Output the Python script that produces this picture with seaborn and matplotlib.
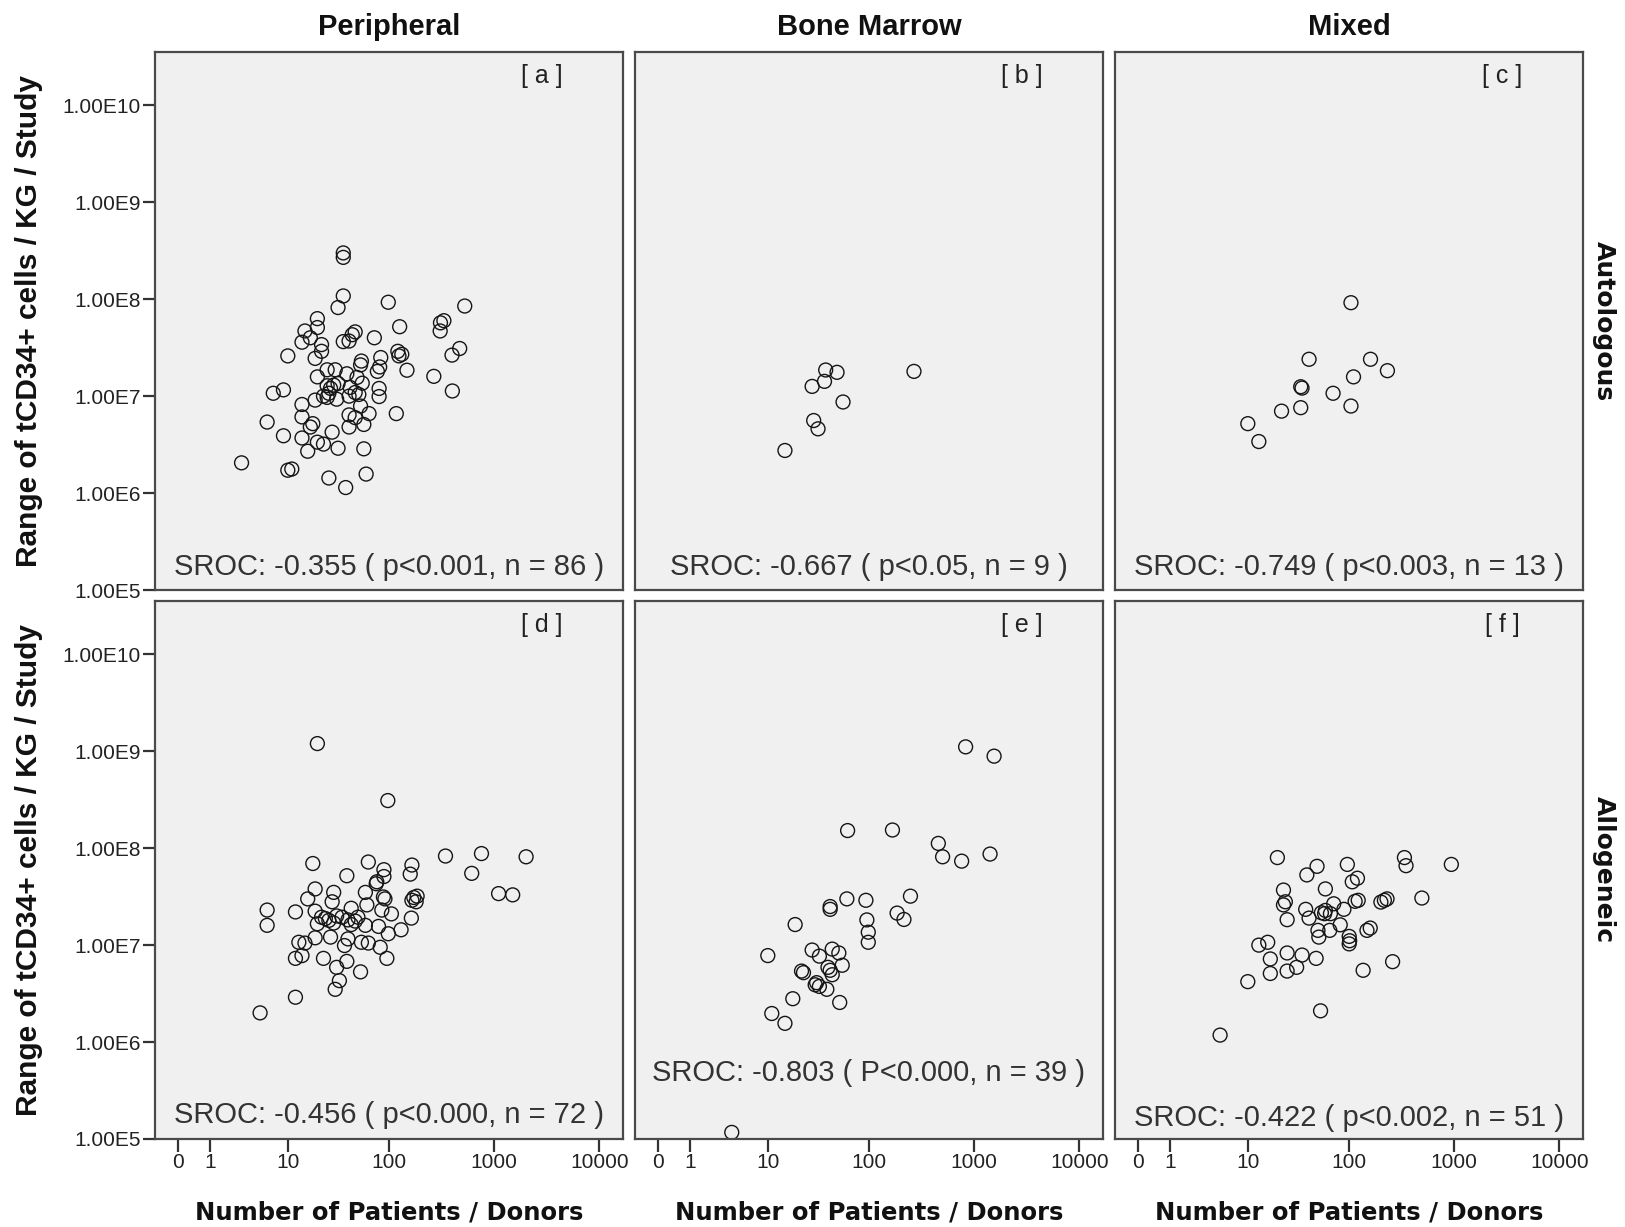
import numpy as np
import pandas as pd
import seaborn as sns
import matplotlib
matplotlib.use("Agg")
import matplotlib.pyplot as plt
from matplotlib.ticker import NullLocator

# number of patients / donors per study, and tCD34+ cells/kg (in millions) per study
per_auto_n = [36, 36, 36, 32, 98, 526, 20, 15, 20, 17, 14, 22, 22, 10, 19, 36, 41, 44, 47, 72,
              126, 309, 333, 307, 471, 398, 121, 132, 124, 83, 54, 53, 81, 77, 148, 267, 401, 25, 30, 39,
              20, 49, 55, 25, 27, 29, 26, 32, 42, 47, 51, 41, 80, 80, 7, 9, 19, 25, 31, 14,
              53, 41, 47, 64, 14, 18, 17, 6, 117, 57, 41, 9, 14, 28, 20, 23, 16, 32, 57, 3,
              10, 11, 26, 38, 60, 23]
per_auto_cd34 = [300, 270, 108, 82, 93, 85, 63, 47, 51, 40, 36, 34, 29, 26, 24.5, 36.5, 37, 43, 46, 40,
                 52, 57, 60, 47, 31, 26.5, 29, 27, 26, 25, 23, 21, 20, 18, 18.5, 16, 11.3, 18.7, 18.7, 17,
                 15.8, 15.6, 13.6, 12.8, 12, 13, 10.7, 13.5, 12.3, 10.9, 10.4, 10, 12, 9.9, 10.7, 11.6, 9.1, 9.7, 9.3, 8.2,
                 7.9, 6.4, 6.0, 6.6, 6.1, 5.2, 4.8, 5.4, 6.6, 5.1, 4.8, 3.9, 3.7, 4.25, 3.35, 3.2, 2.7, 2.9, 2.86, 2.05,
                 1.72, 1.77, 1.43, 1.14, 1.57, 10]

bm_auto_n = [38, 49, 37, 28, 268, 56, 29, 32, 15]
bm_auto_cd34 = [18.6, 17.6, 14.2, 12.6, 18, 8.7, 5.6, 4.6, 2.75]

mix_auto_n = [104, 41, 160, 232, 110, 34, 35, 70, 104, 34, 22, 10, 13]
mix_auto_cd34 = [92, 24, 24, 18.3, 15.8, 12.5, 12.1, 10.7, 7.9, 7.6, 7.0, 5.2, 3.4]

per_allo_n = [20, 97, 345, 759, 2016, 613, 1104, 1503, 18, 63, 89, 89, 165, 159, 39, 75, 19, 29, 59, 88,
              16, 28, 61, 172, 185, 181, 165, 6, 12, 19, 43, 85, 105, 22, 24, 20, 31, 40, 47, 43,
              29, 59, 79, 163, 6, 19, 27, 40, 98, 130, 13, 15, 37, 54, 63, 82, 12, 14, 23, 39,
              95, 31, 53, 33, 30, 12, 5, 76, 35, 50, 26, 91]
per_allo_cd34 = [1200, 310, 83, 88, 81.5, 55, 34, 33, 69.5, 72, 60, 51, 67, 54, 52, 43, 38, 35, 35, 31.4,
                 30, 28, 26, 31, 32, 28, 29, 23, 22, 22.4, 24, 23, 21, 19.4, 18.8, 16.6, 20, 18.2, 17.7, 16.3,
                 16.9, 16, 15.6, 19, 16, 11.9, 12.1, 11.6, 13.1, 14.4, 10.7, 10.5, 9.9, 10.7, 10.5, 9.5, 7.3, 7.8, 7.3, 6.8,
                 7.3, 5.9, 5.3, 4.3, 3.5, 2.9, 2.0, 45, 19.4, 19.4, 18, 30]

bm_allo_n = [831, 1550, 62, 167, 457, 502, 762, 1419, 61, 93, 42, 42, 248, 185, 215, 95, 98, 98, 19, 10,
             28, 44, 33, 51, 55, 22, 23, 40, 42, 44, 31, 33, 39, 30, 18, 52, 11, 15, 4]
bm_allo_cd34 = [1110, 890, 152, 154, 112, 81.5, 73.5, 87, 30, 29, 25, 23.4, 32, 21.4, 18.4, 18.2, 13.6, 10.7, 16.3, 7.8,
                8.9, 9.1, 7.7, 8.3, 6.2, 5.4, 5.2, 5.9, 5.5, 4.95, 4.1, 3.75, 3.5, 3.9, 2.8, 2.56, 1.97, 1.56, 0.117]

mix_allo_n = [20, 49, 39, 96, 337, 349, 942, 107, 120, 59, 23, 23, 24, 38, 41, 25, 71, 54, 58, 59,
              89, 114, 122, 201, 217, 230, 494, 50, 51, 65, 82, 100, 101, 100, 148, 159, 13, 16, 25, 35,
              48, 17, 17, 25, 31, 260, 136, 10, 53, 5, 66]
mix_allo_cd34 = [80, 65, 53, 68, 80, 66, 68, 45, 49, 38, 37, 26, 28, 23.4, 19, 18.3, 26.7, 21.6, 21.1, 22.8,
                 23.4, 28.3, 29, 27.8, 29, 30, 30.6, 14.2, 12.1, 14.2, 16.2, 12.3, 11.1, 10.3, 14.2, 15, 10, 10.7, 8.3, 7.9,
                 7.3, 7.2, 5.1, 5.4, 5.9, 6.75, 5.5, 4.2, 2.1, 1.18, 21.1]

sources = ["Peripheral", "Bone Marrow", "Mixed"]
types = ["Autologous", "Allogeneic"]
panel_tags = ["a", "b", "c", "d", "e", "f"]
sroc_text = ["SROC: -0.355 ( p<0.001, n = 86 )", "SROC: -0.667 ( p<0.05, n = 9 )",
             "SROC: -0.749 ( p<0.003, n = 13 )", "SROC: -0.456 ( p<0.000, n = 72 )",
             "SROC: -0.803 ( P<0.000, n = 39 )", "SROC: -0.422 ( p<0.002, n = 51 )"]
x_ticks = [0, 1, 10, 100, 1000, 10000]
x_ticklabels = ["0", "1", "10", "100", "1000", "10000"]
y_ticks = [1e5, 1e6, 1e7, 1e8, 1e9, 1e10]
y_ticklabels = ["1.00E5", "1.00E6", "1.00E7", "1.00E8", "1.00E9", "1.00E10"]

groups = [
    ("Peripheral", "Autologous", per_auto_n, per_auto_cd34),
    ("Bone Marrow", "Autologous", bm_auto_n, bm_auto_cd34),
    ("Mixed", "Autologous", mix_auto_n, mix_auto_cd34),
    ("Peripheral", "Allogeneic", per_allo_n, per_allo_cd34),
    ("Bone Marrow", "Allogeneic", bm_allo_n, bm_allo_cd34),
    ("Mixed", "Allogeneic", mix_allo_n, mix_allo_cd34),
]
frames = []
for src, typ, n, c in groups:
    frames.append(pd.DataFrame({"source": src, "type": typ,
                                "patients": n, "cells": np.array(c) * 1e6}))
df = pd.concat(frames, ignore_index=True)

sns.set_theme(style="white")
plt.rcParams['font.family'] = ['Liberation Sans', 'DejaVu Sans']


def fwd(x):
    x = np.asarray(x, dtype=float)
    return np.log10(np.clip(x, -0.9999, None) + 1)


def inv(u):
    return 10 ** np.asarray(u, dtype=float) - 1


W, H = 1625, 1227
fig = plt.figure(figsize=(W / 100, H / 100), dpi=100)
fig.patch.set_facecolor("white")

col_left = [155, 635, 1115]
row_top = [52, 601]
pw, ph = 468, 538
text_base = [15, 15, 15, 16, 58, 13]

for i, (src, typ, n, c) in enumerate(groups):
    r, k = divmod(i, 3)
    l, t = col_left[k], row_top[r]
    ax = fig.add_axes([l / W, 1 - (t + ph) / H, pw / W, ph / H])
    ax.set_facecolor("#f0f0f0")
    sub = df[(df.source == src) & (df.type == typ)]
    ax.set_xscale("function", functions=(fwd, inv))
    ax.set_yscale("log")
    sns.scatterplot(data=sub, x="patients", y="cells", ax=ax, s=100,
                    facecolor="none", edgecolor="#151515", linewidth=1.0, legend=False)
    ax.set_xlim(inv(-0.22), inv(4.225))
    ax.set_ylim(1e5, 10 ** 10.55)
    ax.xaxis.set_minor_locator(NullLocator())
    ax.yaxis.set_minor_locator(NullLocator())
    ax.set_xlabel("")
    ax.set_ylabel("")
    if r == 1:
        ax.set_xticks(x_ticks)
        ax.set_xticklabels(x_ticklabels)
    else:
        ax.set_xticks([])
    if k == 0:
        ax.set_yticks(y_ticks)
        ax.set_yticklabels(y_ticklabels)
    else:
        ax.set_yticks([])
    ax.tick_params(bottom=(r == 1), left=(k == 0), top=False, right=False,
                   direction="out", length=9, width=1.6, color="#333333",
                   labelsize=15, labelcolor="#222222", pad=1)
    for s in ax.spines.values():
        s.set_color("#4a4a4a")
        s.set_linewidth(1.6)
    ax.text(0.5, text_base[i] / ph, sroc_text[i], transform=ax.transAxes,
            ha="center", va="baseline", fontsize=21, color="#333333")
    ax.text(1 - 81 / pw, 1 - 24 / ph, "[ " + panel_tags[i] + " ]", transform=ax.transAxes,
            ha="center", va="center", fontsize=18, color="#222222")

for k, src in enumerate(sources):
    cx = (col_left[k] + pw / 2) / W
    fig.text(cx, 1 - 27 / H, src, ha="center", va="center",
             fontsize=21, fontweight="bold", color="#111111")
    fig.text(cx, 1 - 1212 / H, "Number of Patients / Donors", ha="center", va="center",
             fontsize=17.5, fontweight="bold", color="#111111", family=["DejaVu Sans"])

for r, typ in enumerate(types):
    cy = 1 - (row_top[r] + ph / 2) / H
    fig.text(1604 / W, cy, typ, rotation=270, ha="center", va="center",
             fontsize=18, fontweight="bold", color="#111111", family=["DejaVu Sans"])
    fig.text(29 / W, cy, "Range of tCD34+ cells / KG / Study", rotation=90,
             ha="center", va="center", fontsize=21.5, fontweight="bold", color="#111111")

fig.savefig("out.png", dpi=100)
